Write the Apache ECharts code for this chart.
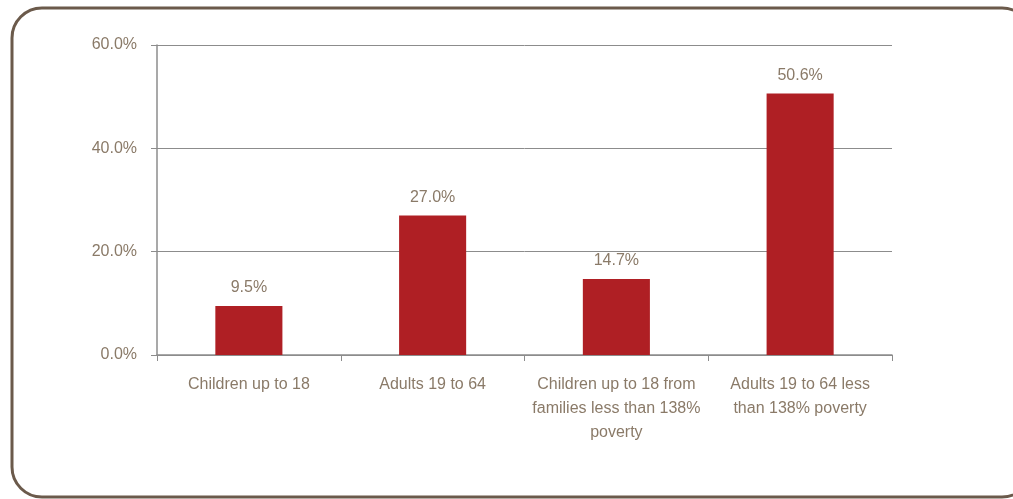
<!DOCTYPE html>
<html>
<head>
<meta charset="utf-8">
<script src="https://cdn.jsdelivr.net/npm/echarts@6/dist/echarts.min.js"></script>
<style>
  html, body { margin: 0; padding: 0; background: #fff; }
  #chart { width: 1013px; height: 499px; }
</style>
</head>
<body>
<div id="chart"></div>
<script>
const categories = [
  "Children up to 18",
  "Adults 19 to 64",
  "Children up to 18 from\nfamilies less than 138%\npoverty",
  "Adults 19 to 64 less\nthan 138% poverty"
];
const values = [9.5, 27.0, 14.7, 50.6];
const yTicks = [0, 20, 40, 60];

const textColor = "#8a7a68";
const font = "'Liberation Sans Narrow', 'Liberation Sans', Arial, sans-serif";

const chart = echarts.init(document.getElementById("chart"));
chart.setOption({
  animation: false,
  grid: { left: 157, right: 121, top: 45, bottom: 144 },
  graphic: [
    {
      type: "rect",
      shape: { x: 12, y: 8, width: 1020, height: 489, r: 30 },
      style: { fill: "none", stroke: "#6b5a4b", lineWidth: 3 },
      silent: true
    }
  ],
  xAxis: {
    type: "category",
    data: categories,
    axisLine: { lineStyle: { color: "#8c8c8c", width: 1.5 } },
    axisTick: { show: true, length: 6, lineStyle: { color: "#8c8c8c" } },
    axisLabel: {
      color: textColor,
      fontFamily: font,
      fontSize: 16,
      lineHeight: 24,
      margin: 18,
      interval: 0
    }
  },
  yAxis: {
    type: "value",
    min: yTicks[0],
    max: yTicks[yTicks.length - 1],
    interval: 20,
    axisLine: { show: true, lineStyle: { color: "#8c8c8c", width: 1.5 } },
    axisTick: { show: true, length: 6, lineStyle: { color: "#8c8c8c" } },
    splitLine: { lineStyle: { color: "#8c8c8c", width: 1 } },
    axisLabel: {
      color: textColor,
      fontFamily: font,
      fontSize: 16,
      margin: 20,
      formatter: (v) => v.toFixed(1) + "%"
    }
  },
  series: [
    {
      type: "bar",
      data: values,
      barWidth: "36.5%",
      itemStyle: { color: "#af1f24" },
      label: {
        show: true,
        position: "top",
        distance: 10,
        color: textColor,
        fontFamily: font,
        fontSize: 16,
        formatter: (p) => p.value.toFixed(1) + "%"
      }
    }
  ]
});
</script>
</body>
</html>
